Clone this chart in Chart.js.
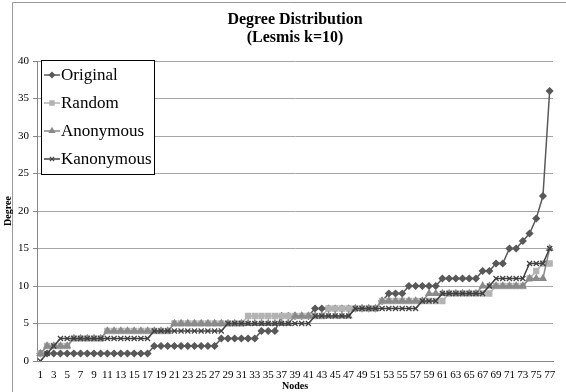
<!DOCTYPE html>
<html>
<head>
<meta charset="utf-8">
<script src="https://cdn.jsdelivr.net/npm/chart.js@4/dist/chart.umd.min.js"></script>
<style>
  html, body { margin: 0; padding: 0; background: #fff; }
  #wrap { width: 566px; height: 392px; }
</style>
</head>
<body>
<div id="wrap"><canvas id="c" width="566" height="392"></canvas></div>
<script>
// Node index along the x axis
const nodes = [
  1,2,3,4,5,6,7,8,9,10,11,12,13,14,15,16,17,18,19,20,
  21,22,23,24,25,26,27,28,29,30,31,32,33,34,35,36,37,38,39,40,
  41,42,43,44,45,46,47,48,49,50,51,52,53,54,55,56,57,58,59,60,
  61,62,63,64,65,66,67,68,69,70,71,72,73,74,75,76,77
];

// Sorted node degrees for each graph
const original = [
  1,1,1,1,1,1,1,1,1,1,1,1,1,1,1,1,1,
  2,2,2,2,2,2,2,2,2,2,
  3,3,3,3,3,3,
  4,4,4,
  6,6,6,6,6,
  7,7,7,7,7,7,7,7,7,7,
  8,
  9,9,9,
  10,10,10,10,10,
  11,11,11,11,11,11,
  12,12,
  13,13,
  15,15,
  16,17,19,22,36
];

const random = [
  1,
  2,2,2,2,
  3,3,3,3,3,
  4,4,4,4,4,4,4,4,4,4,
  5,5,5,5,5,5,5,5,5,5,5,
  6,6,6,6,6,6,6,6,6,6,6,6,
  7,7,7,7,7,7,7,7,
  8,8,8,8,8,8,8,8,8,8,
  9,9,9,9,9,9,9,
  10,10,10,10,10,
  11,12,13,13
];

const anonymous = [
  1,
  2,2,2,2,
  3,3,3,3,3,
  4,4,4,4,4,4,4,4,4,4,
  5,5,5,5,5,5,5,5,5,5,5,5,5,5,5,5,5,5,
  6,6,6,6,6,6,6,6,6,
  7,7,7,7,
  8,8,8,8,8,8,8,
  9,9,9,9,9,9,9,9,
  10,10,10,10,10,10,10,
  11,11,11,
  15
];

const kanonymous = [
  0,1,2,
  3,3,3,3,3,3,3,3,3,3,3,3,3,3,
  4,4,4,4,4,4,4,4,4,4,4,
  5,5,5,5,5,5,5,5,5,5,5,5,5,
  6,6,6,6,6,6,
  7,7,7,7,7,7,7,7,7,7,
  8,8,8,
  9,9,9,9,9,9,9,
  10,
  11,11,11,11,11,
  13,13,13,
  15
];

const yTicks = [0, 5, 10, 15, 20, 25, 30, 35, 40];

const SERIF = '"Liberation Serif", "Times New Roman", serif';

const series = [
  { label: 'Original',   data: original,   color: '#595959', style: 'rectRot',  r: 3.2, order: 4 },
  { label: 'Random',     data: random,     color: '#b3b3b3', style: 'rect',     r: 3.6, order: 3 },
  { label: 'Anonymous',  data: anonymous,  color: '#8a8a8a', style: 'triangle', r: 3.6, order: 2 },
  { label: 'Kanonymous', data: kanonymous, color: '#404040', style: 'crossRot', r: 3.6, order: 1 }
];

// White background and outer frame
const framePlugin = {
  id: 'frame',
  beforeDraw(chart) {
    const ctx = chart.ctx;
    ctx.save();
    ctx.fillStyle = '#fff';
    ctx.fillRect(0, 0, chart.width, chart.height);
    ctx.strokeStyle = '#9a9a9a';
    ctx.lineWidth = 1;
    ctx.beginPath();
    ctx.moveTo(12.5, chart.height);
    ctx.lineTo(12.5, 2.5);
    ctx.lineTo(chart.width, 2.5);
    ctx.stroke();
    ctx.restore();
  }
};

// Title, axis titles and the boxed legend
const textPlugin = {
  id: 'texts',
  afterDraw(chart) {
    const ctx = chart.ctx;
    const area = chart.chartArea;
    ctx.save();
    ctx.fillStyle = '#000';
    ctx.textAlign = 'center';
    ctx.textBaseline = 'middle';
    ctx.font = 'bold 16px ' + SERIF;
    const cx = (area.left + area.right) / 2;
    ctx.fillText('Degree Distribution', cx, 20);
    ctx.fillText('(Lesmis k=10)', cx, 38);

    ctx.font = 'bold 10px ' + SERIF;
    ctx.fillText('Nodes', cx, 386);
    ctx.save();
    ctx.translate(8, (area.top + area.bottom) / 2);
    ctx.rotate(-Math.PI / 2);
    ctx.fillText('Degree', 0, 0);
    ctx.restore();

    // legend box
    const lx = 41, ly = 60, lw = 113, lh = 114;
    ctx.fillStyle = '#fff';
    ctx.fillRect(lx, ly, lw, lh);
    ctx.strokeStyle = '#000';
    ctx.lineWidth = 1;
    ctx.strokeRect(lx + 0.5, ly + 0.5, lw, lh);
    ctx.textAlign = 'left';
    ctx.font = '17px ' + SERIF;
    series.forEach((s, i) => {
      const y = ly + 15 + i * 28;
      ctx.strokeStyle = s.color;
      ctx.lineWidth = 1.5;
      ctx.beginPath();
      ctx.moveTo(lx + 3, y);
      ctx.lineTo(lx + 19, y);
      ctx.stroke();
      ctx.fillStyle = s.color;
      ctx.strokeStyle = s.color;
      ctx.lineWidth = 1.2;
      Chart.helpers.drawPoint(ctx, { pointStyle: s.style, radius: s.r - 0.6, borderWidth: 1.2 }, lx + 11, y);
      ctx.fillStyle = '#000';
      ctx.fillText(s.label, lx + 20, y + 1);
    });
    ctx.restore();
  }
};

new Chart(document.getElementById('c'), {
  type: 'line',
  data: {
    labels: nodes.map(String),
    datasets: series.map(s => ({
      label: s.label,
      data: s.data,
      borderColor: s.color,
      backgroundColor: s.color,
      pointBackgroundColor: s.color,
      pointBorderColor: s.color,
      pointStyle: s.style,
      pointRadius: s.r,
      pointBorderWidth: 1.2,
      borderWidth: 1.5,
      tension: 0,
      fill: false,
      order: s.order
    }))
  },
  options: {
    responsive: false,
    animation: false,
    devicePixelRatio: 1,
    layout: { padding: { left: 0, right: 13, top: 61, bottom: 0 } },
    plugins: {
      legend: { display: false },
      title: { display: false },
      tooltip: { enabled: false }
    },
    scales: {
      x: {
        type: 'category',
        offset: true,
        grid: { display: false, drawTicks: false },
        border: { display: true, color: '#868686', width: 1 },
        ticks: {
          autoSkip: false,
          maxRotation: 0,
          minRotation: 0,
          padding: 8,
          color: '#000',
          font: { family: SERIF, size: 11 },
          callback: function (v, i) { return i % 2 === 0 ? this.getLabelForValue(v) : ''; }
        },
        afterFit(scale) { scale.height = 31; }
      },
      y: {
        min: 0,
        max: 40,
        afterBuildTicks(scale) { scale.ticks = yTicks.map(v => ({ value: v })); },
        grid: { color: '#a6a6a6', lineWidth: 1, tickLength: 4, tickColor: '#868686' },
        border: { display: true, color: '#868686', width: 1 },
        ticks: {
          padding: 4,
          color: '#000',
          font: { family: SERIF, size: 11 }
        },
        afterFit(scale) { scale.width = 37; }
      }
    }
  },
  plugins: [framePlugin, textPlugin]
});
</script>
</body>
</html>
